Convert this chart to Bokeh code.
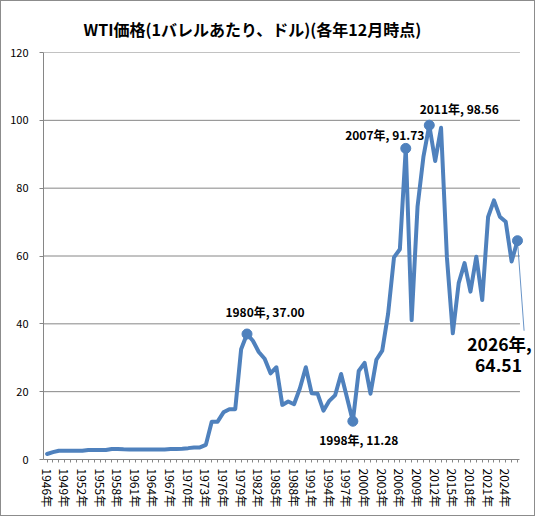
import math
from bokeh.plotting import figure
from bokeh.models import Range1d, FixedTicker, Label
from bokeh.embed import file_html
from bokeh.resources import INLINE

# ---- data ----
years = list(range(1946, 2027))
prices = [
    1.63, 2.16, 2.57, 2.57, 2.57, 2.57, 2.57, 2.78, 2.78, 2.78,   # 1946-1955
    2.78, 3.07, 3.07, 3.00, 2.97, 2.97, 2.97, 2.97, 2.97, 2.97,   # 1956-1965
    2.97, 3.07, 3.07, 3.18, 3.35, 3.56, 3.56, 4.31, 11.16, 11.16, # 1966-1975
    13.90, 14.85, 14.85, 32.50, 37.00, 35.00, 31.70, 29.70, 25.40, 27.20,  # 1976-1985
    16.10, 17.10, 16.30, 21.00, 27.20, 19.50, 19.40, 14.40, 17.30, 19.00,  # 1986-1995
    25.20, 18.30, 11.28, 26.10, 28.50, 19.40, 29.40, 32.10, 43.00, 59.60,  # 1996-2005
    62.00, 91.73, 41.10, 74.50, 89.20, 98.56, 88.00, 97.80, 59.50, 37.20,  # 2006-2015
    52.00, 57.90, 49.50, 59.80, 47.00, 71.50, 76.40, 71.60, 70.10, 58.40,  # 2016-2025
    64.51,                                                               # 2026
]
label_years = list(range(1946, 2027, 3))
y_ticks = [0, 20, 40, 60, 80, 100, 120]
callout_years = [1980, 1998, 2007, 2011, 2026]
title_text = "WTI価格(1バレルあたり、ドル)(各年12月時点)"

# ---- style ----
BLUE = "#4f81bd"
GRAY = "#868686"
JP = "Noto Sans CJK JP"

W, H = 535, 516
MB_L, MB_R, MB_T, MB_B = 42, 2, 51, 58
PX_PER_YEAR = 5.88
X0 = 1945.39
X1 = X0 + (W - MB_L - MB_R) / PX_PER_YEAR
AX_END = 2026.42

p = figure(width=W, height=H, output_backend="svg", toolbar_location=None,
           x_range=Range1d(X0, X1), y_range=Range1d(0, 120),
           min_border_left=MB_L, min_border_right=MB_R,
           min_border_top=MB_T, min_border_bottom=MB_B,
           background_fill_color="white", border_fill_color="white")
p.styles = {"border": "1px solid #8c8c8c", "box-sizing": "border-box"}
p.outline_line_color = None
p.xgrid.visible = False
p.ygrid.visible = False

# title
p.title.text = title_text
p.title.align = "left"
p.title.offset = 40
p.title.vertical_align = "top"
p.title.text_font = JP
p.title.text_font_size = "16px"
p.title.text_font_style = "bold"
p.title.text_color = "black"
p.title.standoff = 20

# manual horizontal grid lines (end with the axis)
gy = [v for v in y_ticks if v > 0]
p.segment(x0=[X0] * len(gy), x1=[AX_END] * len(gy), y0=gy, y1=gy,
          line_color=GRAY, line_width=1)

# x axis
xa = p.xaxis[0]
xa.ticker = FixedTicker(ticks=years)
xa.major_label_overrides = {y: (f"{y}年" if y in label_years else "") for y in years}
xa.major_label_orientation = -math.pi / 2
xa.bounds = (X0, AX_END)
xa.axis_line_color = GRAY
xa.major_tick_line_color = GRAY
xa.major_tick_out = 3
xa.major_tick_in = 0
xa.minor_tick_line_color = None
xa.major_label_standoff = 6
xa.major_label_text_font = JP
xa.major_label_text_font_size = "12px"
xa.major_label_text_color = "black"

# y axis
ya = p.yaxis[0]
ya.ticker = FixedTicker(ticks=y_ticks)
ya.axis_line_color = GRAY
ya.major_tick_line_color = GRAY
ya.major_tick_out = 4
ya.major_tick_in = 0
ya.minor_tick_line_color = None
ya.major_label_standoff = 11
ya.major_label_text_font = JP
ya.major_label_text_font_size = "11px"
ya.major_label_text_color = "black"

# main line
p.line(years, prices, line_color=BLUE, line_width=4, line_join="round", line_cap="round")

# callout markers
cx = callout_years
cy = [prices[years.index(y)] for y in cx]
p.scatter(cx, cy, size=10, fill_color=BLUE, line_color=BLUE)

# leader line for last label (screen offset converted to data units)
frame_h = H - MB_T - MB_B
px_per_y = frame_h / 120.0
lead_dx, lead_dy = 6.6, -90
p.line([cx[-1], cx[-1] + lead_dx / PX_PER_YEAR], [cy[-1], cy[-1] + lead_dy / px_per_y],
       line_color=BLUE, line_width=1, line_alpha=0.85)

# data labels
offsets = {1980: (18, 23), 1998: (6, -18), 2007: (-21, 14), 2011: (30, 16.5)}
for yr, val in zip(cx, cy):
    if yr in offsets:
        dx, dy = offsets[yr]
        p.add_layout(Label(x=yr, y=val, x_offset=dx, y_offset=dy,
                           text=f"{yr}年, {val:.2f}", text_align="center",
                           text_baseline="middle", text_font=JP,
                           text_font_size="12px", text_font_style="bold",
                           text_color="black"))
last_y, last_v = cx[-1], cy[-1]
p.add_layout(Label(x=last_y, y=last_v, x_offset=-18, y_offset=-103,
                   text=f"{last_y}年,", text_align="center", text_baseline="middle",
                   text_font=JP, text_font_size="17.5px", text_font_style="bold",
                   text_color="black"))
p.add_layout(Label(x=last_y, y=last_v, x_offset=-19, y_offset=-125,
                   text=f"{last_v:.2f}", text_align="center", text_baseline="middle",
                   text_font=JP, text_font_size="17.5px", text_font_style="bold",
                   text_color="black"))

open("out.html", "w").write(file_html(p, INLINE))
